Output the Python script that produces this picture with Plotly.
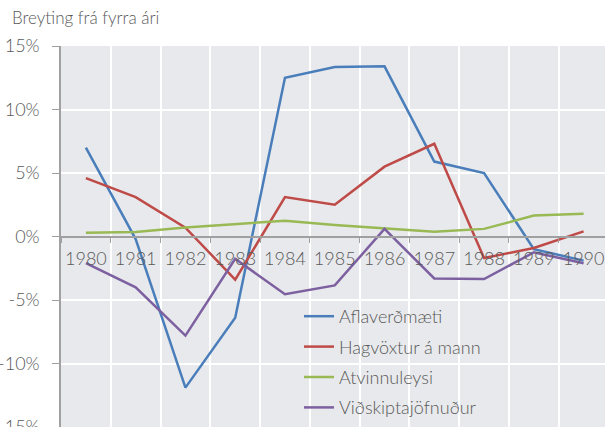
import plotly.graph_objects as go

years = ["1980", "1981", "1982", "1983", "1984", "1985", "1986", "1987", "1988", "1989", "1990"]
aflaverdmaeti = [7.0, -0.2, -11.9, -6.4, 12.5, 13.35, 13.4, 5.9, 5.0, -1.0, -1.9]
hagvoxtur = [4.6, 3.1, 0.7, -3.4, 3.1, 2.5, 5.5, 7.3, -1.7, -0.9, 0.4]
atvinnuleysi = [0.3, 0.35, 0.7, 1.0, 1.25, 0.9, 0.65, 0.37, 0.6, 1.65, 1.8]
vidskiptajofnudur = [-2.1, -4.0, -7.8, -1.75, -4.55, -3.85, 0.6, -3.3, -3.35, -1.25, -2.1]
series_names = ["Aflaverðmæti", "Hagvöxtur á mann", "Atvinnuleysi", "Viðskiptajöfnuður"]
colors = ["#4A7EBB", "#BE4B48", "#98B954", "#7D60A0"]
ytick_vals = [-15, -10, -5, 0, 5, 10, 15]
ytick_text = ["-15%", "-10%", "-5%", "0%", "5%", "10%", "15%"]

xs = list(range(len(years)))
fig = go.Figure()
for i, (name, vals, c) in enumerate(zip(series_names, [aflaverdmaeti, hagvoxtur, atvinnuleysi, vidskiptajofnudur], colors)):
    fig.add_trace(go.Scatter(x=xs, y=vals, mode="lines", name=name, legendgroup=f"g{i}",
                             line=dict(color=c, width=2.5)))

gray = "#595959"
fig.update_layout(
    width=605, height=427,
    margin=dict(l=61, r=0, t=46, b=0, autoexpand=False),
    paper_bgcolor="white",
    plot_bgcolor="#E8E9EC",
    font=dict(family="Lato, Open Sans, sans-serif", color=gray, weight=300),
    title=dict(text="Breyting frá fyrra ári", x=12/605, xanchor="left", xref="container",
               y=1-18/427, yanchor="middle", font=dict(size=17, color=gray, weight=300)),
    showlegend=True,
    legend=dict(x=(299-61)/544, y=(427-298)/381, xanchor="left", yanchor="top",
                traceorder="grouped", tracegroupgap=4,
                bgcolor="rgba(0,0,0,0)", font=dict(size=18, color=gray, weight=300)),
    xaxis=dict(
        range=[-0.5, 10.43], tickmode="array", tickvals=xs, ticktext=years,
        showgrid=False, ticks="", tickfont=dict(size=18, color=gray, weight=300),
        anchor="free", position=0.5, showline=True, linecolor="#A0A0A0", linewidth=1.5,
        ticklabelstandoff=6, zeroline=False, automargin=False,
        minor=dict(tick0=-0.5, dtick=1, showgrid=True, gridcolor="white", gridwidth=1.5,
                   ticks="outside", ticklen=6, tickcolor="#A0A0A0"),
    ),
    yaxis=dict(
        range=[-15, 15], tickmode="array", tickvals=ytick_vals, ticktext=ytick_text,
        showgrid=True, gridcolor="white", gridwidth=1.5, zeroline=False,
        showline=True, linecolor="#A0A0A0", linewidth=1.5, automargin=False,
        ticks="outside", ticklen=7, tickcolor="#A0A0A0", ticklabeloverflow="allow",
        tickfont=dict(size=18, color=gray, weight=300), ticklabelstandoff=9,
    ),
)
fig.write_html("out.html", config={"displayModeBar": False},
               post_script="document.body.style.margin='0px';document.body.style.overflow='hidden';")
